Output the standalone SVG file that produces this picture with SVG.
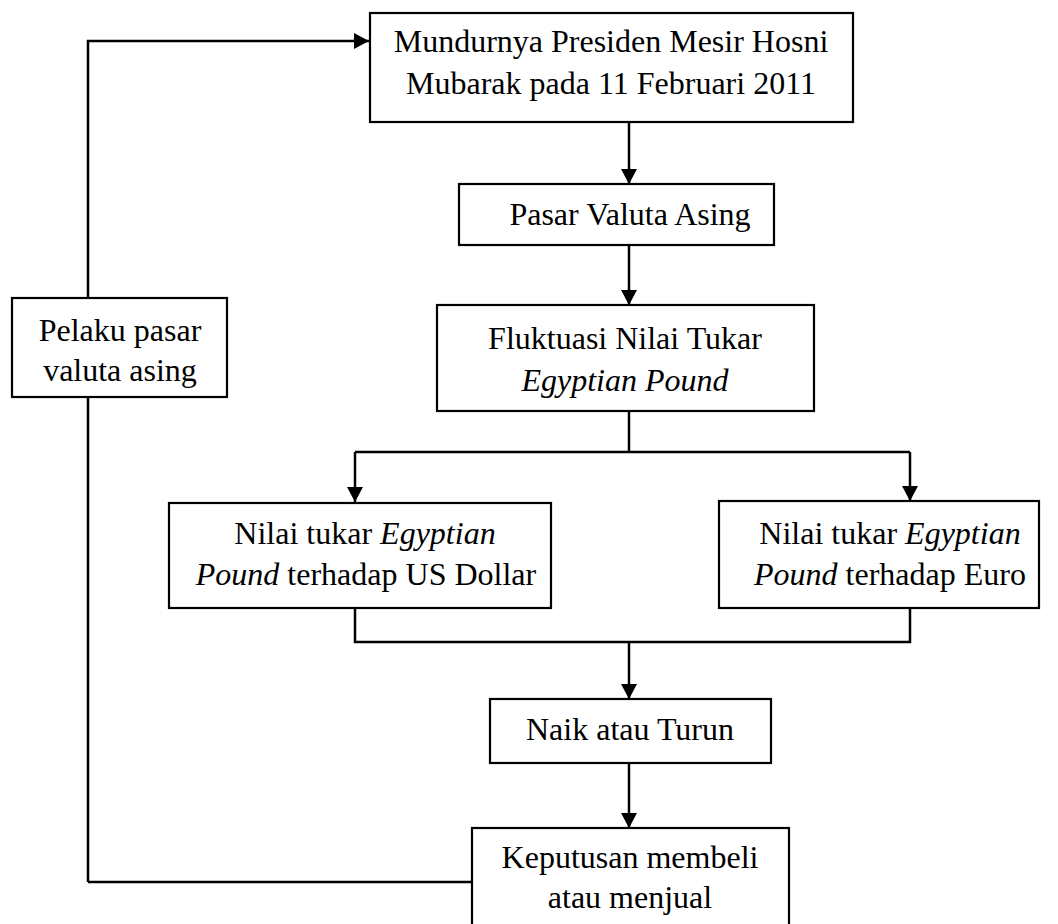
<svg xmlns="http://www.w3.org/2000/svg" width="1058" height="924" viewBox="0 0 1058 924">
<style>
.box{fill:#fff;stroke:#000;stroke-width:2.2}
.ln{fill:none;stroke:#000;stroke-width:2.5}
text{font-family:"Liberation Serif","Times New Roman",serif;font-size:32px;fill:#000;text-anchor:middle}
.i{font-style:italic}
</style>
<defs>
<marker id="ah" viewBox="0 0 15 16" refX="15" refY="8" markerWidth="15" markerHeight="16" markerUnits="userSpaceOnUse" orient="auto">
<path d="M0,0 L15,8 L0,16 Z" fill="#000"/>
</marker>
</defs>
<rect width="1058" height="924" fill="#fff"/>
<g id="connectors">
<path class="ln" d="M88,882 L88,41 L369,41" marker-end="url(#ah)"/>
<path class="ln" d="M88,882 L472,882"/>
<path class="ln" d="M629,122 L629,184" marker-end="url(#ah)"/>
<path class="ln" d="M629,245 L629,305" marker-end="url(#ah)"/>
<path class="ln" d="M629,411 L629,452"/>
<path class="ln" d="M355,452 L910,452"/>
<path class="ln" d="M355,452 L355,502" marker-end="url(#ah)"/>
<path class="ln" d="M910,452 L910,501" marker-end="url(#ah)"/>
<path class="ln" d="M355,608 L355,642 L910,642 L910,608"/>
<path class="ln" d="M629,642 L629,699" marker-end="url(#ah)"/>
<path class="ln" d="M629,763 L629,828" marker-end="url(#ah)"/>
</g>
<g id="n-mundur">
<rect class="box" x="370" y="13" width="483" height="109"/>
<text x="611" y="52">Mundurnya Presiden Mesir Hosni</text>
<text x="611" y="94">Mubarak pada 11 Februari 2011</text>
</g>
<g id="n-pasar">
<rect class="box" x="459" y="184" width="315" height="61"/>
<text x="630" y="225">Pasar Valuta Asing</text>
</g>
<g id="n-fluktuasi">
<rect class="box" x="437" y="305" width="377" height="106"/>
<text x="625" y="349">Fluktuasi Nilai Tukar</text>
<text x="625" y="391" class="i">Egyptian Pound</text>
</g>
<g id="n-pelaku">
<rect class="box" x="12" y="298" width="215" height="99"/>
<text x="120" y="341">Pelaku pasar</text>
<text x="120" y="381">valuta asing</text>
</g>
<g id="n-usd">
<rect class="box" x="169" y="503" width="382" height="105"/>
<text x="365" y="544">Nilai tukar <tspan class="i">Egyptian</tspan></text>
<text x="366" y="585"><tspan class="i">Pound</tspan> terhadap US Dollar</text>
</g>
<g id="n-euro">
<rect class="box" x="719" y="501" width="320" height="107"/>
<text x="890" y="544">Nilai tukar <tspan class="i">Egyptian</tspan></text>
<text x="890" y="585"><tspan class="i">Pound</tspan> terhadap Euro</text>
</g>
<g id="n-naik">
<rect class="box" x="490" y="699" width="281" height="64"/>
<text x="630" y="740">Naik atau Turun</text>
</g>
<g id="n-keputusan">
<rect class="box" x="472" y="828" width="317" height="110"/>
<text x="630" y="868">Keputusan membeli</text>
<text x="630" y="908">atau menjual</text>
</g>
</svg>
